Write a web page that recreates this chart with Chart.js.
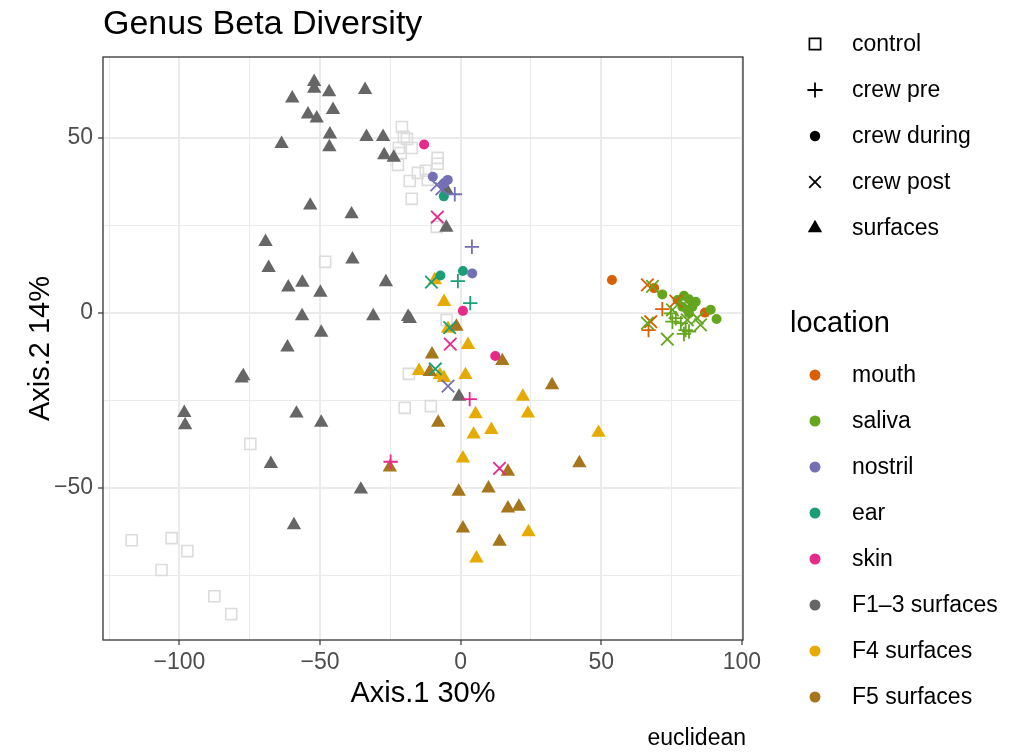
<!DOCTYPE html>
<html>
<head>
<meta charset="utf-8">
<title>Genus Beta Diversity</title>
<script src="https://cdn.jsdelivr.net/npm/chart.js@4.4.1/dist/chart.umd.min.js"></script>
<style>
  html, body { margin: 0; padding: 0; background: #ffffff; }
  #pcoa { display: block; }
</style>
</head>
<body>
<canvas id="pcoa" width="1009" height="754"></canvas>
<script>
// PCoA coordinates [Axis.1, Axis.2], one array per sample group
const controlSamples = [
    [-20.9, 53.1], [-20.2, 50.3], [-19.1, 49.7], [-22.0, 47.1], [-17.4, 47.1], [-21.3, 45.7],
    [-22.3, 42.3], [-8.2, 44.3], [-8.2, 42.6], [-15.2, 40.0], [-12.4, 40.6], [-18.1, 37.7],
    [-11.7, 38.0], [-17.4, 32.6], [-8.5, 24.6], [-48.2, 14.6], [-5.0, -2.0], [-18.4, -17.4],
    [-10.6, -26.6], [-19.9, -27.1], [-74.8, -37.4], [-117.0, -64.9], [-102.8, -64.3],
    [-97.2, -68.0], [-106.4, -73.4], [-87.6, -80.9], [-81.6, -86.0]
];

const f13Surfaces = [
    [-52.1, 66.0], [-52.1, 64.1], [-59.9, 61.3], [-46.8, 63.1], [-34.0, 63.7], [-54.3, 56.7],
    [-51.2, 55.6], [-45.4, 58.0], [-63.7, 48.3], [-46.5, 51.0], [-46.7, 47.4], [-33.5, 50.3],
    [-27.6, 50.3], [-27.2, 45.1], [-23.8, 44.4], [-53.5, 30.7], [-38.8, 28.2], [-5.1, 24.4],
    [-69.4, 20.3], [-68.3, 12.9], [-38.5, 15.3], [-61.3, 7.3], [-56.3, 8.7], [-49.9, 5.8],
    [-26.6, 8.8], [-56.4, -0.9], [-31.1, -0.9], [-18.7, -1.1], [-18.1, -1.7], [-49.6, -5.6],
    [-61.6, -9.8], [-77.9, -18.7], [-77.3, -18.0], [-58.4, -28.7], [-98.3, -28.5], [-98.0, -32.0],
    [-49.6, -31.3], [-67.5, -43.1], [-35.5, -50.4], [-59.3, -60.6], [-0.6, -23.9], [-5.0, 35.1]
];

const f4Surfaces = [
    [-9.2, 9.4], [-5.9, 3.2], [-4.5, -4.5], [2.6, -9.1], [-14.8, -16.5], [-7.4, -17.7],
    [-6.0, -18.5], [1.7, -17.7], [5.3, -28.9], [10.9, -33.4], [4.6, -34.7], [22.1, -23.9],
    [23.9, -28.7], [49.0, -34.2], [0.8, -41.5], [5.6, -70.1], [24.1, -62.6]
];

const f5Surfaces = [
    [-1.5, -3.9], [-10.2, -11.8], [14.8, -13.7], [-11.0, -16.8], [-8.0, -31.3], [32.5, -20.6],
    [42.2, -42.9], [16.8, -45.3], [-25.2, -44.1], [-0.7, -51.0], [9.9, -50.1], [16.8, -55.8],
    [20.7, -55.3], [0.8, -61.5], [13.8, -65.3]
];

const mouthPre = [[71.7, 1.1], [66.8, -4.9]];
const mouthDuring = [[53.8, 9.4], [68.8, 7.1], [86.9, 0.1]];
const mouthPost = [[66.4, 8.0], [76.5, 3.4], [67.6, -2.5]];

const salivaPre = [[74.7, -0.1], [76.5, -1.5], [78.3, -2.9], [80.0, -4.9], [81.2, -5.3], [79.4, -6.0], [75.3, -2.5]];
const salivaDuring = [
    [71.7, 5.3], [77.1, 3.7], [79.4, 4.9], [81.2, 3.9], [82.4, 1.8], [80.6, 0.9],
    [78.8, 1.8], [83.6, 3.2], [81.2, -0.1], [88.9, 0.9], [91.0, -1.7]
];
const salivaPost = [[68.2, 7.6], [66.4, -2.9], [73.5, -7.5], [80.6, -2.0], [85.3, -3.4], [84.1, -1.5], [75.3, 0.9]];

const nostrilPre = [[-2.1, 33.9], [4.0, 18.9]];
const nostrilDuring = [[-9.9, 38.9], [-4.6, 38.0], [-6.0, 36.9], [4.1, 11.3]];
const nostrilPost = [[-8.5, 36.6], [-6.7, 35.4], [-4.5, -20.9]];

const earPre = [[-1.0, 9.1], [3.4, 2.8]];
const earDuring = [[-6.0, 33.3], [-7.2, 10.7], [0.8, 12.0]];
const earPost = [[-10.4, 8.8], [-3.9, -4.2], [-9.0, -16.0]];

const skinPre = [[3.2, -24.6], [-24.9, -42.5]];
const skinDuring = [[-13.0, 48.1], [0.8, 0.6], [12.3, -12.3]];
const skinPost = [[-8.3, 27.4], [-3.7, -8.9], [13.8, -44.4]];

// axis breaks
const xMajorTicks = [-100, -50, 0, 50, 100];
const xMinorTicks = [-125, -75, -25, 25, 75];
const yMajorTicks = [-50, 0, 50];
const yMinorTicks = [-75, -25, 25];

// legend entries
const sampleTypes = ['control', 'crew pre', 'crew during', 'crew post', 'surfaces'];
const locations = ['mouth', 'saliva', 'nostril', 'ear', 'skin', 'F1\u20133 surfaces', 'F4 surfaces', 'F5 surfaces'];
const locationColors = ['#D95F02', '#66A61E', '#7570B3', '#1B9E77', '#E7298A', '#666666', '#E6AB02', '#A6761D'];
const controlColor = '#dcdcdc';

// marker look for each sample type
const shapeStyles = {
    'control':     { pointStyle: 'rect',     radius: 7.8, filled: false, lineWidth: 1.6 },
    'crew pre':    { pointStyle: 'cross',    radius: 7.2, filled: false, lineWidth: 1.8 },
    'crew during': { pointStyle: 'circle',   radius: 5.0, filled: true,  lineWidth: 0 },
    'crew post':   { pointStyle: 'crossRot', radius: 8.8, filled: false, lineWidth: 1.8 },
    'surfaces':    { pointStyle: 'triangle', radius: 8.3, filled: true,  lineWidth: 0 }
};

function series(label, points, type, color) {
    const s = shapeStyles[type];
    return {
        label: label,
        data: points.map(([x, y]) => ({ x, y })),
        pointStyle: s.pointStyle,
        pointRadius: s.radius,
        pointBorderWidth: s.lineWidth,
        borderColor: color,
        backgroundColor: s.filled ? color : 'rgba(0,0,0,0)',
        showLine: false
    };
}

const colorOf = name => locationColors[locations.indexOf(name)];

// later entries end up on top
const datasets = [
    series('control', controlSamples, 'control', controlColor),
    series('F1-3 surfaces', f13Surfaces, 'surfaces', colorOf('F1\u20133 surfaces')),
    series('F4 surfaces', f4Surfaces, 'surfaces', colorOf('F4 surfaces')),
    series('F5 surfaces', f5Surfaces, 'surfaces', colorOf('F5 surfaces')),
    series('mouth pre', mouthPre, 'crew pre', colorOf('mouth')),
    series('saliva pre', salivaPre, 'crew pre', colorOf('saliva')),
    series('nostril pre', nostrilPre, 'crew pre', colorOf('nostril')),
    series('ear pre', earPre, 'crew pre', colorOf('ear')),
    series('skin pre', skinPre, 'crew pre', colorOf('skin')),
    series('mouth during', mouthDuring, 'crew during', colorOf('mouth')),
    series('saliva during', salivaDuring, 'crew during', colorOf('saliva')),
    series('nostril during', nostrilDuring, 'crew during', colorOf('nostril')),
    series('ear during', earDuring, 'crew during', colorOf('ear')),
    series('skin during', skinDuring, 'crew during', colorOf('skin')),
    series('mouth post', mouthPost, 'crew post', colorOf('mouth')),
    series('saliva post', salivaPost, 'crew post', colorOf('saliva')),
    series('nostril post', nostrilPost, 'crew post', colorOf('nostril')),
    series('ear post', earPost, 'crew post', colorOf('ear')),
    series('skin post', skinPost, 'crew post', colorOf('skin'))
];
datasets.forEach((d, i) => { d.order = datasets.length - i; });

const FONT = '"Liberation Sans", Arial, Helvetica, sans-serif';
const GRID = '#ebebeb';

const fmt = v => (v < 0 ? '\u2212' + Math.abs(v) : String(v));

function axisOptions(major, minor, min, max) {
    const all = major.concat(minor).sort((a, b) => a - b);
    const isMajor = ctx => ctx.tick && major.includes(ctx.tick.value);
    return {
        type: 'linear',
        min: min,
        max: max,
        afterBuildTicks: scale => { scale.ticks = all.map(v => ({ value: v })); },
        ticks: {
            autoSkip: false,
            maxRotation: 0,
            color: '#4d4d4d',
            font: { family: FONT, size: 23 },
            callback: v => (major.includes(v) ? fmt(v) : '')
        },
        grid: {
            color: GRID,
            lineWidth: ctx => (isMajor(ctx) ? 2 : 1),
            drawTicks: true,
            tickLength: 5,
            tickWidth: 1.2,
            tickColor: ctx => (isMajor(ctx) ? '#333333' : 'rgba(0,0,0,0)')
        },
        border: { display: false }
    };
}

// draws a legend key symbol in the same way as the plotted markers
function drawKey(ctx, type, x, y, color) {
    ctx.save();
    ctx.strokeStyle = color;
    ctx.fillStyle = color;
    ctx.lineWidth = 1.8;
    ctx.beginPath();
    if (type === 'control') {
        ctx.lineWidth = 1.7;
        ctx.rect(x - 5.6, y - 5.6, 11.2, 11.2);
        ctx.stroke();
    } else if (type === 'crew pre') {
        ctx.moveTo(x - 7.6, y); ctx.lineTo(x + 7.6, y);
        ctx.moveTo(x, y - 7.6); ctx.lineTo(x, y + 7.6);
        ctx.stroke();
    } else if (type === 'crew during') {
        ctx.arc(x, y, 5.2, 0, Math.PI * 2);
        ctx.fill();
    } else if (type === 'crew post') {
        const d = 5.8;
        ctx.moveTo(x - d, y - d); ctx.lineTo(x + d, y + d);
        ctx.moveTo(x - d, y + d); ctx.lineTo(x + d, y - d);
        ctx.stroke();
    } else if (type === 'surfaces') {
        const r = 8.3;
        ctx.moveTo(x, y - r);
        ctx.lineTo(x + r * Math.sin(2 * Math.PI / 3), y + r / 2);
        ctx.lineTo(x - r * Math.sin(2 * Math.PI / 3), y + r / 2);
        ctx.closePath();
        ctx.fill();
    }
    ctx.restore();
}

const decorations = {
    id: 'decorations',
    afterDraw(chart) {
        const ctx = chart.ctx;
        const area = chart.chartArea;
        ctx.save();

        // panel border
        ctx.strokeStyle = '#333333';
        ctx.lineWidth = 1.3;
        ctx.strokeRect(area.left, area.top, area.right - area.left, area.bottom - area.top);

        // title
        ctx.fillStyle = '#000000';
        ctx.textBaseline = 'alphabetic';
        ctx.textAlign = 'left';
        ctx.font = '34px ' + FONT;
        ctx.fillText('Genus Beta Diversity', area.left, 34);

        // caption
        ctx.font = '23px ' + FONT;
        ctx.textAlign = 'right';
        ctx.fillText('euclidean', 746, 745);

        // shape legend
        ctx.textAlign = 'left';
        ctx.textBaseline = 'middle';
        sampleTypes.forEach((t, i) => {
            const y = 44 + i * 46;
            drawKey(ctx, t, 815, y, '#000000');
            ctx.fillStyle = '#000000';
            ctx.font = '23px ' + FONT;
            ctx.fillText(t, 852, y + 1);
        });

        // colour legend
        ctx.font = '29px ' + FONT;
        ctx.fillText('location', 790, 324);
        locations.forEach((name, i) => {
            const y = 375 + i * 46;
            ctx.beginPath();
            ctx.fillStyle = locationColors[i];
            ctx.arc(815, y, 5.5, 0, Math.PI * 2);
            ctx.fill();
            ctx.fillStyle = '#000000';
            ctx.font = '23px ' + FONT;
            ctx.fillText(name, 852, y + 1);
        });

        ctx.restore();
    }
};

document.addEventListener('DOMContentLoaded', () => {
    const canvas = document.getElementById('pcoa');
    const xAxis = axisOptions(xMajorTicks, xMinorTicks, -127.2, 100.4);
    xAxis.position = 'bottom';
    xAxis.ticks.padding = 4;
    xAxis.title = {
        display: true, text: 'Axis.1 30%', color: '#000000',
        font: { family: FONT, size: 29 }, padding: { top: 0, bottom: 43 }
    };
    xAxis.afterFit = scale => { scale.height = 114; };

    const yAxis = axisOptions(yMajorTicks, yMinorTicks, -93.4, 73.1);
    yAxis.position = 'left';
    yAxis.ticks.padding = 5;
    yAxis.title = {
        display: true, text: 'Axis.2 14%', color: '#000000',
        font: { family: FONT, size: 29 }, padding: { top: 24, bottom: 0 }
    };
    yAxis.afterFit = scale => { scale.width = 103; };

    new Chart(canvas.getContext('2d'), {
        type: 'scatter',
        data: { datasets },
        options: {
            responsive: false,
            animation: false,
            events: [],
            layout: { padding: { top: 57, right: 266, bottom: 0, left: 0 } },
            plugins: {
                legend: { display: false },
                tooltip: { enabled: false },
                title: { display: false }
            },
            scales: { x: xAxis, y: yAxis }
        },
        plugins: [decorations]
    });
});
</script>
</body>
</html>
